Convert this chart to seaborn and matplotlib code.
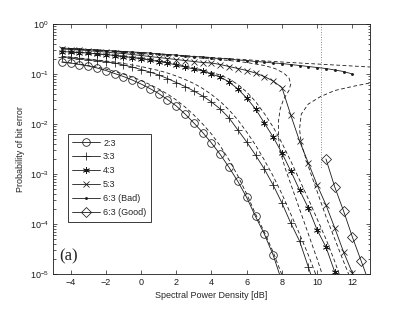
"""Bit error probability vs spectral power density (MATLAB-style figure)."""

import matplotlib
import numpy as np

matplotlib.use("Agg")
import matplotlib.pyplot as plt
import seaborn as sns


# Spectral power density grid [dB] for the measured points
DB = [-4.5, -4.0, -3.5, -3.0, -2.5, -2.0, -1.5, -1.0, -0.5, 0.0, 0.5, 1.0,
      1.5, 2.0, 2.5, 3.0, 3.5, 4.0, 4.5, 5.0, 5.5, 6.0, 6.5, 7.0, 7.5, 8.0,
      8.5, 9.0, 9.5, 10.0, 10.5, 11.0, 11.5, 12.0, 12.5]

# log10 of the bit error probability
BER_23 = [-0.76, -0.78, -0.81, -0.84, -0.88, -0.93, -0.99, -1.05, -1.12, -1.20,
          -1.29, -1.39, -1.51, -1.64, -1.80, -1.98, -2.17, -2.38, -2.61, -2.87,
          -3.15, -3.47, -3.85, -4.20, -4.62, -5.15]
BER_33 = [-0.65, -0.67, -0.69, -0.71, -0.73, -0.75, -0.78, -0.82, -0.86, -0.91,
          -0.96, -1.02, -1.09, -1.17, -1.25, -1.34, -1.44, -1.56, -1.70, -1.88,
          -2.12, -2.36, -2.62, -2.90, -3.22, -3.58, -3.98, -4.34, -4.86, -5.40]
BER_43 = [-0.55, -0.56, -0.57, -0.58, -0.60, -0.61, -0.63, -0.65, -0.67, -0.69,
          -0.72, -0.75, -0.78, -0.82, -0.86, -0.90, -0.94, -1.00, -1.06, -1.16,
          -1.30, -1.48, -1.70, -1.98, -2.26, -2.58, -2.94, -3.32, -3.68, -4.12,
          -4.46, -4.96, -5.50]
BER_53 = [-0.50, -0.51, -0.52, -0.53, -0.55, -0.56, -0.58, -0.59, -0.61, -0.63,
          -0.65, -0.67, -0.69, -0.71, -0.73, -0.75, -0.77, -0.78, -0.81, -0.85,
          -0.89, -0.93, -0.98, -1.05, -1.14, -1.27, -1.82, -2.34, -2.78, -3.22,
          -3.62, -4.08, -4.56, -4.98, -5.50]
BER_63_BAD = [-0.48, -0.49, -0.50, -0.51, -0.52, -0.53, -0.54, -0.55, -0.56,
              -0.57, -0.58, -0.60, -0.61, -0.62, -0.64, -0.65, -0.66, -0.68,
              -0.69, -0.70, -0.72, -0.73, -0.75, -0.76, -0.78, -0.79, -0.81,
              -0.83, -0.85, -0.87, -0.89, -0.92, -0.95, -1.00]
DB_GOOD = [10.5, 11.0, 11.5, 12.0, 12.5, 13.0]
BER_63_GOOD = [-2.70, -3.26, -3.74, -4.26, -4.74, -5.22]

# dashed (analytical) curves, log10 of the bit error probability
DASH_23 = [-0.76, -0.78, -0.80, -0.83, -0.86, -0.90, -0.95, -1.00, -1.06, -1.13,
           -1.21, -1.30, -1.40, -1.52, -1.66, -1.82, -2.00, -2.20, -2.44, -2.72,
           -3.04, -3.40, -3.80, -4.16, -4.56, -5.02]
DASH_33 = [-0.65, -0.66, -0.68, -0.70, -0.72, -0.74, -0.76, -0.79, -0.82, -0.85,
           -0.89, -0.93, -0.98, -1.04, -1.11, -1.19, -1.29, -1.41, -1.55, -1.72,
           -1.92, -2.16, -2.42, -2.72, -3.04, -3.40, -3.80, -4.20, -4.62, -5.08]
DASH_43 = [-0.55, -0.56, -0.57, -0.58, -0.60, -0.61, -0.63, -0.65, -0.67, -0.69,
           -0.71, -0.74, -0.77, -0.80, -0.84, -0.88, -0.92, -0.97, -1.02, -1.10,
           -1.21, -1.36, -1.55, -1.79, -2.06, -2.38, -2.74, -3.12, -3.50, -3.90,
           -4.30, -4.75, -5.25]
DASH_53_X = [-4.5, -2.0, 0.0, 2.0, 4.0, 5.0, 6.0, 7.0, 7.6, 8.1, 8.4, 8.5, 8.4,
             8.1, 7.9, 7.8, 7.8, 7.9, 8.2, 8.6, 9.0, 9.5, 10.0, 10.3]
DASH_53 = [-0.49, -0.54, -0.59, -0.64, -0.70, -0.73, -0.77, -0.83, -0.89, -0.98,
           -1.08, -1.20, -1.33, -1.50, -1.70, -1.95, -2.25, -2.55, -2.90, -3.30,
           -3.70, -4.20, -4.70, -5.02]
DASH_63_X = [-4.5, 0.0, 4.0, 8.0, 10.0, 12.0, 13.0, 13.6, 13.8, 13.6, 13.0, 12.0,
             11.0, 10.2, 9.5, 9.1, 9.0, 9.1, 9.5, 10.0, 10.5, 11.0, 11.5, 11.9]
DASH_63 = [-0.48, -0.57, -0.67, -0.76, -0.80, -0.84, -0.86, -0.90, -1.00, -1.10,
           -1.18, -1.25, -1.33, -1.45, -1.60, -1.80, -2.10, -2.40, -2.85, -3.35,
           -3.85, -4.30, -4.75, -5.10]

THRESHOLD_DB = 10.2
THRESHOLD_LOG = [0.0, -2.9]

X_TICKS = [-4, -2, 0, 2, 4, 6, 8, 10, 12]


def draw(ax, x, logp, **kws):
    """Draw one curve given log10 values, on the log y axis."""
    sns.lineplot(x=list(x), y=10.0 ** np.asarray(logp), ax=ax, sort=False,
                 estimator=None, color="k", **kws)


def main():
    sns.set_theme(style="ticks")
    plt.rcParams["font.family"] = ["Liberation Sans", "DejaVu Sans"]
    plt.rcParams["mathtext.default"] = "regular"

    fig = plt.figure(figsize=(4.09, 3.09), dpi=100)
    ax = fig.add_axes([0.1296, 0.1133, 0.775, 0.809])

    dash = dict(lw=0.6, linestyle=(0, (4.5, 3)))
    draw(ax, DB[:len(DASH_23)], DASH_23, **dash)
    draw(ax, DB[:len(DASH_33)], DASH_33, **dash)
    draw(ax, DB[:len(DASH_43)], DASH_43, **dash)
    draw(ax, DASH_53_X, DASH_53, **dash)
    draw(ax, DASH_63_X, DASH_63, **dash)

    ax.plot([THRESHOLD_DB, THRESHOLD_DB], 10.0 ** np.asarray(THRESHOLD_LOG),
            color="0.4", lw=0.6, linestyle=(0, (1, 2)))

    solid = dict(lw=0.6, markeredgecolor="k", markeredgewidth=0.55)
    draw(ax, DB[:len(BER_23)], BER_23, label="2:3", marker="o", ms=5.5,
         markerfacecolor="none", **solid)
    draw(ax, DB[:len(BER_33)], BER_33, label="3:3", marker="+", ms=6, **solid)
    draw(ax, DB[:len(BER_43)], BER_43, label="4:3", marker=(6, 2, 0), ms=5,
         **solid)
    draw(ax, DB[:len(BER_53)], BER_53, label="5:3", marker="x", ms=4.5, **solid)
    draw(ax, DB[:len(BER_63_BAD)], BER_63_BAD, label="6:3 (Bad)", marker=".",
         ms=3, **solid)
    draw(ax, DB_GOOD, BER_63_GOOD, label="6:3 (Good)", marker="D", ms=5,
         markerfacecolor="none", **solid)

    ax.set_yscale("log")
    ax.set_xlim(-5, 13)
    ax.set_ylim(1e-5, 1)
    ax.set_xticks(X_TICKS)
    ax.tick_params(which="both", direction="in", top=True, right=True,
                   labelsize=6.5, width=0.5, colors="k", pad=3)
    ax.tick_params(which="major", length=3)
    ax.tick_params(which="minor", length=1.8)
    for spine in ax.spines.values():
        spine.set_linewidth(0.6)
        spine.set_color("k")

    ax.set_xlabel("Spectral Power Density [dB]", fontsize=6.5, labelpad=3)
    ax.set_ylabel("Probability of bit error", fontsize=6.5, labelpad=3)

    handles, labels = ax.get_legend_handles_labels()
    leg = ax.legend(handles, labels, loc="upper left",
                    bbox_to_anchor=(0.047, 0.56), fontsize=6.5, frameon=True,
                    fancybox=False, framealpha=1, edgecolor="k",
                    handlelength=3.0, labelspacing=0.55, borderpad=0.5,
                    handletextpad=0.4, borderaxespad=0)
    leg.get_frame().set_linewidth(0.6)

    ax.text(0.02, 0.04, "(a)", transform=ax.transAxes, fontsize=12,
            family=["Liberation Serif"], ha="left", va="bottom")

    fig.savefig("out.png", dpi=100)
    plt.close(fig)


if __name__ == "__main__":
    main()
